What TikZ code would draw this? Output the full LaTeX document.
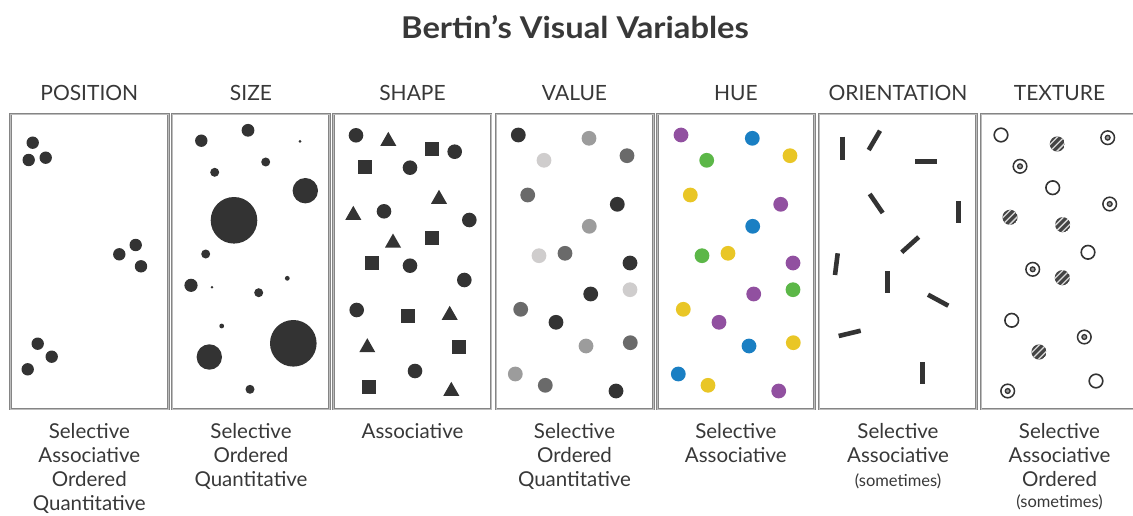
\documentclass[tikz,border=0pt]{standalone}
\usepackage{fontspec}
\setmainfont{Lato}
\newfontfamily\titlefont[FakeStretch=1.09]{Lato}
\definecolor{ink}{HTML}{333333}
\definecolor{txt}{HTML}{383838}
\definecolor{frame}{HTML}{858585}
\definecolor{framein}{HTML}{BDBDBD}
\definecolor{vA}{HTML}{333333}
\definecolor{vB}{HTML}{6A6A6A}
\definecolor{vC}{HTML}{9C9C9C}
\definecolor{vD}{HTML}{CFCDCD}
\definecolor{hP}{HTML}{9150A0}
\definecolor{hB}{HTML}{1A7FC3}
\definecolor{hG}{HTML}{5CB748}
\definecolor{hY}{HTML}{E9C626}
\definecolor{hatchc}{HTML}{444444}
\newcommand{\DotAt}[4]{\fill[#4] (#1,#2) circle (#3);}
\newcommand{\TriAt}[2]{\fill[ink] (#1-8,#2+6.5) -- (#1+8,#2+6.5) -- (#1,#2-7.5) -- cycle;}
\newcommand{\SqAt}[2]{\fill[ink] (#1-7,#2-7) rectangle (#1+7,#2+7);}
\newcommand{\OpenAt}[2]{\draw[ink,line width=1.6pt,fill=white] (#1,#2) circle (6.8);}
\newcommand{\TargetAt}[2]{\draw[ink,line width=1.5pt,fill=white] (#1,#2) circle (6.8);
  \draw[ink,line width=1.3pt,fill=vC] (#1,#2) circle (2.4);}
\newcommand{\HatchAt}[2]{\begin{scope}
  \clip (#1,#2) circle (7.6);
  \fill[hatchc] (#1,#2) circle (7.6);
  \foreach \d in {-3.4,0,3.4} {\draw[white!85!black,line width=1.3pt] (#1-10+\d,#2+10+\d) -- (#1+10+\d,#2-10+\d);}
  \end{scope}}
\begin{document}
\begin{tikzpicture}[x=1pt,y=-1pt,
  panel/.style={draw=frame,double=framein,double distance=0.8pt,line width=0.9pt},
  headlbl/.style={font=\fontsize{21}{24}\selectfont,text=txt,anchor=base,inner sep=0pt},
  proplbl/.style={font=\fontsize{20.5}{24}\selectfont,text=txt,anchor=north,align=center,inner sep=0pt},
  smalllbl/.style={font=\fontsize{16.5}{18}\selectfont,text=txt,anchor=base,inner sep=0pt},
  bar/.style={ink,line width=4.6pt,line cap=butt}]
\useasboundingbox (0,0) rectangle (1133,516);
\begin{scope}
\clip (0,0) rectangle (1133,516);
% title
\node[font=\fontsize{30}{32}\titlefont\bfseries,text=txt,anchor=base,inner sep=0pt] (title) at (575,38.5) {Bertin’s Visual Variables};
% headers
\node[headlbl] (hposition) at (89.3,101) {POSITION};
\node[headlbl] (hsize) at (251,101) {SIZE};
\node[headlbl] (hshape) at (412.5,101) {SHAPE};
\node[headlbl] (hvalue) at (574.5,101) {VALUE};
\node[headlbl] (hhue) at (735.8,101) {HUE};
\node[headlbl] (horient) at (898,101) {ORIENTATION};
\node[headlbl] (htexture) at (1059.5,101) {TEXTURE};
% panels
\foreach \x in {10.7,172,333.5,496,657.2,819,981} {\draw[panel] (\x,114) rectangle (\x+157.5,409);}
% POSITION
\foreach \px/\py in {32.7/142.7,28.7/160,45.7/157.7,135.7/245,119.3/254.3,141/266.3,37.7/343.7,51.7/356.7,27.7/369.3}
  {\DotAt{\px}{\py}{6.2}{ink}}
% SIZE
\foreach \px/\py/\pr in {201.3/140.7/6.2,248/130.3/6.4,300/141.3/1.5,265.7/162/4.5,214.7/172.3/4.5,305.3/190.7/12.7,234/220.3/23.3,205.7/254/4.5,191/285.3/6.6,212/287.3/1.4,258.7/292.7/4.5,287.3/278.3/2.4,221.7/326/2.4,209.3/357/12.7,293.3/343.3/23.3,250/389.3/4.5}
  {\DotAt{\px}{\py}{\pr}{ink}}
% SHAPE
\foreach \px/\py in {356/135.3,454.7/151.7,410/167.7,384/211.3,469.3/220,410/265.7,464.3/280,356.7/310,415/371}
  {\DotAt{\px}{\py}{7.3}{ink}}
\foreach \px/\py in {388.3/139.3,439/197.3,353.3/213.3,393/241,449.7/313.3,367.3/345.7,451.3/389.3}
  {\TriAt{\px}{\py}}
\foreach \px/\py in {432/149.3,365.3/167,432/238.3,371.7/263.3,407.7/315.7,459/347.3,368.7/387.3}
  {\SqAt{\px}{\py}}
% VALUE
\foreach \px/\py/\pc in {518.3/135/vA,589/138.3/vC,544/160.3/vD,627/155.7/vB,527.7/195/vB,617.3/204.3/vA,589.3/226.3/vC,539/255.7/vD,565/253.3/vB,630/263/vA,630/289.7/vD,590.7/294/vA,520.7/309.3/vB,556/322.3/vA,586/346/vC,630.3/342.7/vB,515.3/374/vC,545.3/385.3/vB,616/391/vA}
  {\DotAt{\px}{\py}{7.4}{\pc}}
% HUE
\foreach \px/\py/\pc in {681/135/hP,752.3/138.3/hB,706.7/160.3/hG,790/155.7/hY,690.3/195/hY,780.7/204.3/hP,752.7/226.3/hB,702/255.7/hG,728/253.3/hY,793/263/hP,793/289.7/hG,753.7/294/hP,683.3/309.3/hY,719/322.3/hP,749/346/hB,793.3/342.7/hY,678.3/374/hB,708/385.3/hY,778.7/391/hP}
  {\DotAt{\px}{\py}{7.4}{\pc}}
% ORIENTATION
\draw[bar] (842.3,136.7) -- (842.3,160);
\draw[bar] (880,130.7) -- (868.7,150);
\draw[bar] (915,161.3) -- (937.3,161.3);
\draw[bar] (869.7,194) -- (882.7,213);
\draw[bar] (958.7,201) -- (958.7,223.3);
\draw[bar] (901.7,252.3) -- (918.7,237);
\draw[bar] (837.7,253.3) -- (835,275);
\draw[bar] (887.3,271.3) -- (887.3,293.3);
\draw[bar] (928,294.7) -- (948.3,305.7);
\draw[bar] (838.7,336) -- (860.7,330.7);
\draw[bar] (922.7,362.3) -- (922.7,384.3);
% TEXTURE
\OpenAt{1001}{135}
\HatchAt{1057.3}{144}
\TargetAt{1107.7}{137.7}
\TargetAt{1020}{166.3}
\OpenAt{1052.7}{187.7}
\TargetAt{1109.7}{204}
\HatchAt{1010}{217.3}
\HatchAt{1062.7}{224.7}
\OpenAt{1088}{252.3}
\TargetAt{1032.7}{269.3}
\HatchAt{1062.3}{277.7}
\OpenAt{1011.7}{320.3}
\TargetAt{1084.3}{337}
\HatchAt{1039}{352}
\OpenAt{1096}{381}
\TargetAt{1007.7}{391}
% property labels
\node[proplbl] (pposition) at (89.3,423.5) {Selective\\Associative\\Ordered\\Quantitative};
\node[proplbl] (psize) at (251,423.5) {Selective\\Ordered\\Quantitative};
\node[proplbl] (pshape) at (412.5,423.5) {Associative};
\node[proplbl] (pvalue) at (574.5,423.5) {Selective\\Ordered\\Quantitative};
\node[proplbl] (phue) at (735.8,423.5) {Selective\\Associative};
\node[proplbl] (porient) at (898,423.5) {Selective\\Associative};
\node[smalllbl] (sorient) at (898,486) {(sometimes)};
\node[proplbl] (ptexture) at (1059.5,423.5) {Selective\\Associative\\Ordered};
\node[smalllbl] (stexture) at (1059.5,507.5) {(sometimes)};
\end{scope}
\end{tikzpicture}
\end{document}
